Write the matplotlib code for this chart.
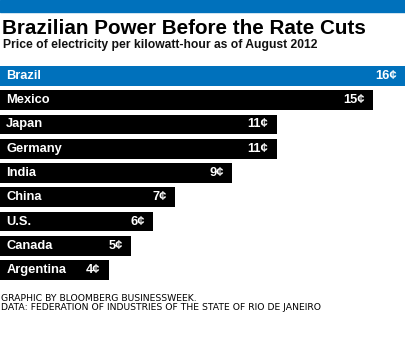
import matplotlib
matplotlib.use("Agg")
import matplotlib.pyplot as plt
from matplotlib.patches import Rectangle

countries = ["Brazil", "Mexico", "Japan", "Germany", "India", "China", "U.S.", "Canada", "Argentina"]
prices = [16.4, 15.1, 11.2, 11.2, 9.4, 7.1, 6.2, 5.3, 4.4]
labels = ["16¢", "15¢", "11¢", "11¢", "9¢", "7¢", "6¢", "5¢", "4¢"]
colors = ["#0071bc"] + ["black"] * 8

plt.rcParams['font.family'] = ['Liberation Sans', 'DejaVu Sans']

fig = plt.figure(figsize=(4.05, 3.5), dpi=100)

# blue strip at the very top
fig.patches.append(Rectangle((0, 1 - 12 / 350), 1, 12 / 350, transform=fig.transFigure,
                             color="#0071bc", zorder=0))

fig.text(2 / 405, 1 - 19 / 350, "Brazilian Power Before the Rate Cuts", fontsize=14.9,
         fontweight="bold", va="top", ha="left")
fig.text(3 / 405, 1 - 39 / 350, "Price of electricity per kilowatt-hour as of August 2012",
         fontsize=8.7, fontweight="bold", va="top", ha="left", color="#111111")

ax = fig.add_axes([0, 70 / 350, 1, 214 / 350])
ypos = list(range(len(countries)))
ax.barh(ypos, prices, height=0.82, color=colors)
ax.set_xlim(0, 16.4)
ax.set_ylim(len(countries) - 1 + 0.41, -0.41)
ax.axis("off")

for i, (c, v, lab) in enumerate(zip(countries, prices, labels)):
    ax.annotate(c, xy=(0, i), xytext=(4.5, 0), textcoords="offset points",
                color="white", fontsize=9.3, fontweight="bold", va="center", ha="left")
    ax.annotate(lab, xy=(v, i), xytext=(-6, 0), textcoords="offset points",
                color="white", fontsize=9.3, fontweight="bold", va="center", ha="right")

fig.text(1 / 405, 1 - 294 / 350, "GRAPHIC BY BLOOMBERG BUSINESSWEEK.\nDATA: FEDERATION OF INDUSTRIES OF THE STATE OF RIO DE JANEIRO",
         fontsize=6.7, family="DejaVu Sans", va="top", ha="left", linespacing=1.05)

fig.savefig("out.png", dpi=100)
